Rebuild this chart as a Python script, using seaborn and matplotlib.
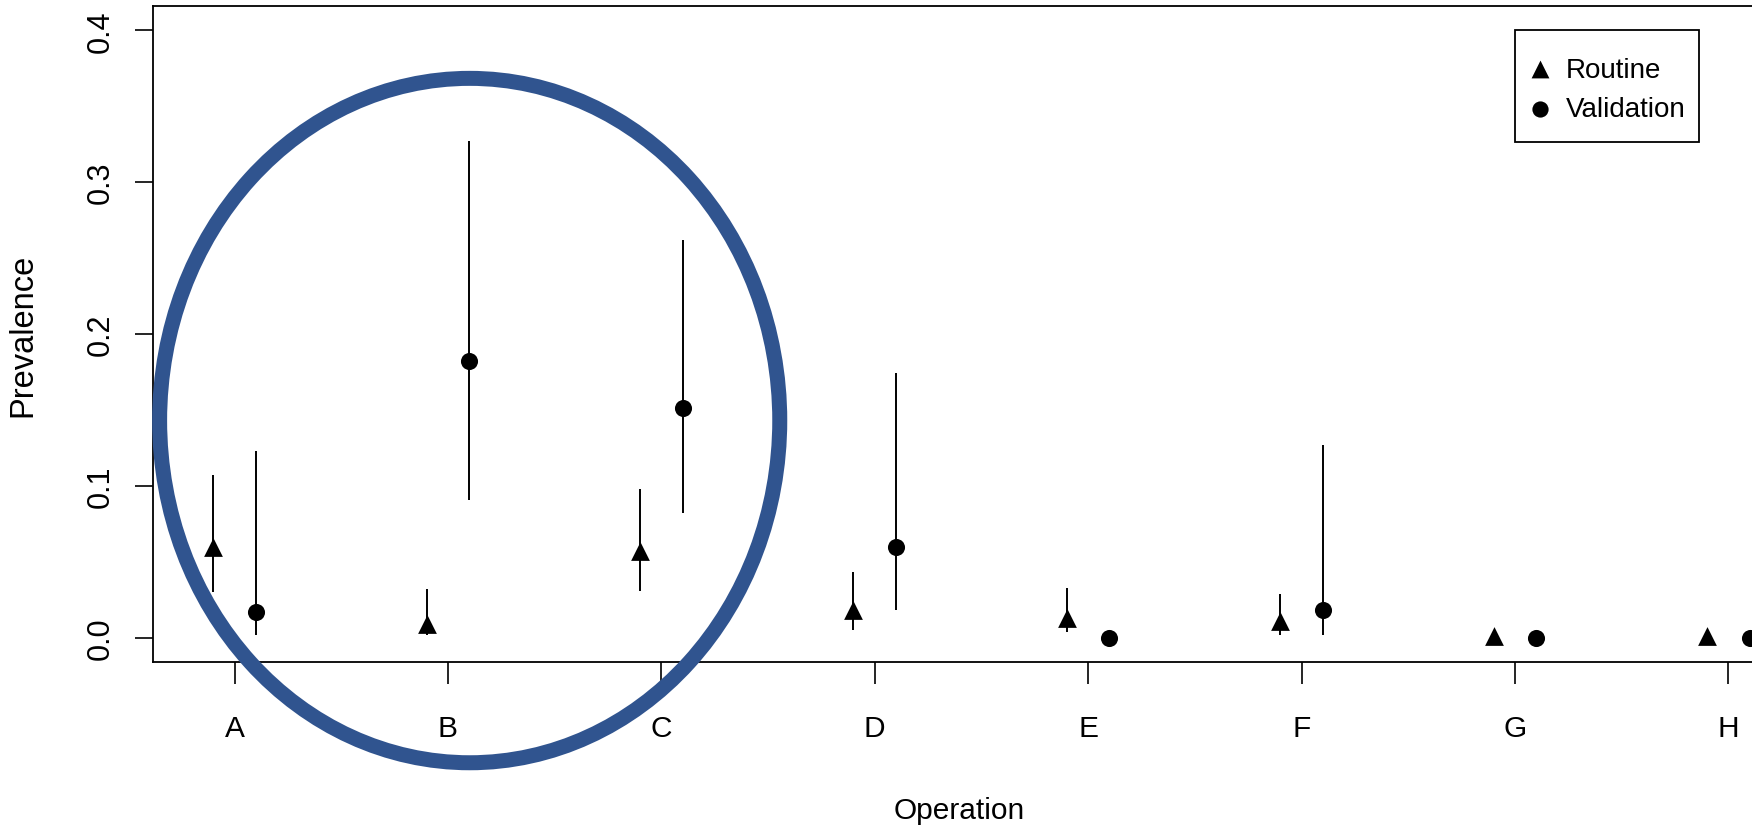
import numpy as np
import pandas as pd
import matplotlib
matplotlib.use("Agg")
import matplotlib.pyplot as plt
from matplotlib.patches import Ellipse, Rectangle
import seaborn as sns

# ---- data ----
operations = ["A", "B", "C", "D", "E", "F", "G", "H"]
routine_est = [0.060, 0.009, 0.057, 0.018, 0.013, 0.011, 0.001, 0.001]
routine_lo = [0.030, 0.002, 0.031, 0.005, 0.004, 0.002, 0.001, 0.001]
routine_hi = [0.107, 0.032, 0.098, 0.043, 0.033, 0.029, 0.001, 0.001]
valid_est = [0.017, 0.182, 0.151, 0.060, 0.000, 0.018, 0.000, 0.000]
valid_lo = [0.0015, 0.091, 0.082, 0.018, 0.000, 0.0015, 0.000, 0.000]
valid_hi = [0.123, 0.327, 0.262, 0.174, 0.000, 0.127, 0.000, 0.000]
yticks = [0.0, 0.1, 0.2, 0.3, 0.4]

sns.set_theme(style="white")
plt.rcParams["font.family"] = ["Liberation Sans", "DejaVu Sans"]
plt.rcParams["text.color"] = "black"
plt.rcParams["axes.labelcolor"] = "black"
plt.rcParams["xtick.color"] = "black"
plt.rcParams["ytick.color"] = "black"

fig = plt.figure(figsize=(17.52, 8.29), dpi=100)
W, H = 1752, 829
left_px, top_px, bottom_px = 153, 7, 663
xl = (0.618, 8.2)
right_px = 1771
ax = fig.add_axes([left_px / W, 1 - bottom_px / H, (right_px - left_px) / W, (bottom_px - top_px) / H])

pos = np.arange(1, len(operations) + 1)
off = 0.1
df_r = pd.DataFrame({"x": pos - off, "y": routine_est, "lo": routine_lo, "hi": routine_hi})
df_v = pd.DataFrame({"x": pos + off, "y": valid_est, "lo": valid_lo, "hi": valid_hi})

ax.vlines(df_r["x"], df_r["lo"], df_r["hi"], color="black", lw=1.4, zorder=2)
ax.vlines(df_v["x"], df_v["lo"], df_v["hi"], color="black", lw=1.4, zorder=2)
sns.scatterplot(data=df_r, x="x", y="y", marker="^", s=13.5**2, color="black",
                linewidth=0, label="Routine", ax=ax, zorder=3)
sns.scatterplot(data=df_v, x="x", y="y", marker="o", s=12.3**2, color="black",
                linewidth=0, label="Validation", ax=ax, zorder=3)

ax.set_xlim(*xl)
ax.set_ylim(-0.016, 0.416)
ax.set_xticks(pos)
ax.set_xticklabels(operations)
ax.set_yticks(yticks)
ax.set_yticklabels([f"{t:.1f}" for t in yticks])
ax.tick_params(axis="x", length=15.5, width=1.2, pad=22, labelsize=21.5, colors="black", bottom=True)
ax.tick_params(axis="y", length=13, width=1.2, pad=14, labelsize=22, colors="black", left=True,
               labelrotation=90)
for lab in ax.get_yticklabels():
    lab.set_va("center")
for sp in ax.spines.values():
    sp.set_color("black")
    sp.set_linewidth(1.3)

ax.set_xlabel("Operation", fontsize=21.5, color="black")
ax.set_ylabel("Prevalence", fontsize=23.5, color="black")
ax.xaxis.set_label_coords(0.498, -0.204)
ax.yaxis.set_label_coords(-0.071, 0.5)

ell = Ellipse((2.102, 0.143), width=2.906, height=0.4507, fill=False,
              edgecolor="#30548F", lw=10.8, clip_on=False, zorder=5)
ax.add_patch(ell)

# legend (frame drawn as a separate box)
leg = ax.legend(loc="center left", bbox_to_anchor=(1526 / W, 1 - 90.5 / H),
                bbox_transform=fig.transFigure, borderaxespad=0, borderpad=0,
                fontsize=20, frameon=False, handletextpad=0.44,
                labelspacing=0.5, handlelength=1.0, markerscale=0.95)
for t in leg.get_texts():
    t.set_color("black")
fig.add_artist(Rectangle((1515 / W, 1 - 143 / H), 184 / W, 112 / H,
                         transform=fig.transFigure, fill=False,
                         edgecolor="black", lw=1.3))

fig.savefig("out.png", dpi=100)
